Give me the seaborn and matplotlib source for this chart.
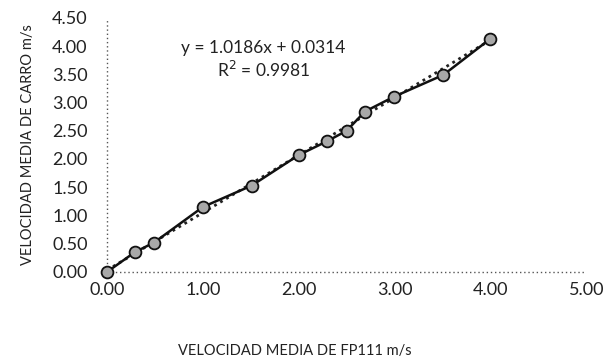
import matplotlib
matplotlib.use("Agg")
import matplotlib.pyplot as plt
import numpy as np
import pandas as pd
import seaborn as sns

# Data
vel_fp111 = [0.00, 0.29, 0.49, 1.00, 1.51, 2.00, 2.29, 2.50, 2.69, 2.99, 3.51, 4.00]
vel_carro = [0.00, 0.35, 0.52, 1.15, 1.53, 2.07, 2.31, 2.50, 2.84, 3.10, 3.49, 4.13]
slope = 1.0186
intercept = 0.0314
r2 = 0.9981

x_ticks = [0, 1, 2, 3, 4, 5]
y_ticks = [0, 0.5, 1, 1.5, 2, 2.5, 3, 3.5, 4, 4.5]

df = pd.DataFrame({"fp111": vel_fp111, "carro": vel_carro})

sns.set_style("white")
plt.rcParams["font.family"] = ["Lato", "DejaVu Sans"]

fig = plt.figure(figsize=(6.05, 3.64), dpi=100)
ax = fig.add_axes([0.177, 0.253, 0.792, 0.698])

# dotted axis lines
ax.plot([0, 5], [0, 0], color="#555555", linestyle=(0, (1, 2)), linewidth=1.0,
        zorder=1, clip_on=False)
ax.plot([0, 0], [0, 4.5], color="#555555", linestyle=(0, (1, 2)), linewidth=1.0,
        zorder=1, clip_on=False)

# linear trendline
trend_x = np.array([min(vel_fp111), max(vel_fp111)])
ax.plot(trend_x, slope * trend_x + intercept, color="#222222",
        linestyle=(0, (1, 1.5)), linewidth=2.0, zorder=2)

sns.lineplot(data=df, x="fp111", y="carro", ax=ax, color="#111111",
             linewidth=1.8, marker="o", markersize=8.5,
             markerfacecolor="#a8a8a8", markeredgecolor="#111111",
             markeredgewidth=1.3, zorder=3, clip_on=False)

ax.set_xlim(0, 5)
ax.set_ylim(0, 4.5)
ax.set_xticks(x_ticks)
ax.set_yticks(y_ticks)
ax.set_xticklabels([f"{v:.2f}" for v in x_ticks], fontsize=13, color="#222222")
ax.set_yticklabels([f"{v:.2f}" for v in y_ticks], fontsize=13, color="#222222")
ax.tick_params(axis="x", length=0, pad=7)
ax.tick_params(axis="y", length=0, pad=14)
ax.set_xlabel("VELOCIDAD MEDIA DE FP111 m/s", fontsize=10.5, color="#222222")
ax.xaxis.set_label_coords(0.392, -0.285)
ax.set_ylabel("VELOCIDAD MEDIA DE CARRO m/s", fontsize=10.5, color="#222222", labelpad=12)
for s in ax.spines.values():
    s.set_visible(False)

ax.text(1.63, 3.97, f"y = {slope}x + {intercept}", fontsize=12.5,
        ha="center", va="center", color="#222222")
ax.text(1.63, 3.57, f"R$^2$ = {r2}", fontsize=12.5,
        ha="center", va="center", color="#222222")

fig.savefig("out.png", dpi=100)
